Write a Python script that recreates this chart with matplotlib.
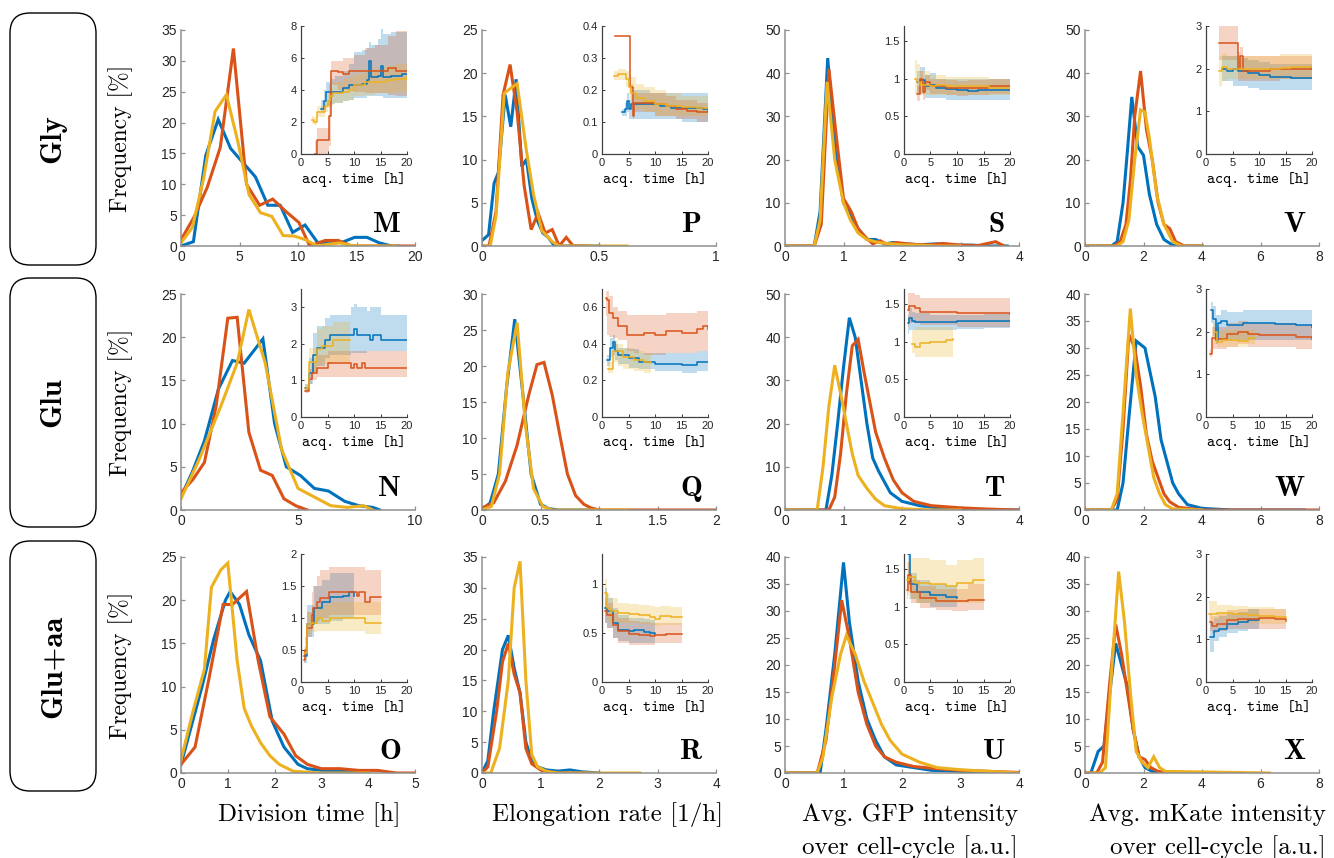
import numpy as np
import matplotlib.pyplot as plt
from matplotlib.patches import FancyBboxPatch

plt.rcParams['font.family'] = ['Liberation Sans', 'DejaVu Sans']
plt.rcParams['axes.unicode_minus'] = False

BLUE, RED, YEL = '#0072BD', '#D95319', '#EDB120'
colors = {'b': BLUE, 'o': RED, 'y': YEL}

# ---------------- histogram curves (bin centre, frequency %) ----------------
hist_M = {
    'b': ([0, 1.06, 2.12, 3.18, 4.24, 5.3, 6.36, 7.42, 8.48, 9.54, 10.6, 11.66, 12.72, 13.78, 14.84, 15.9, 16.96, 18.0, 18.5],
          [0, 0.7, 14.7, 20.5, 15.8, 13.5, 11.2, 6.6, 6.6, 2.2, 3.4, 0.6, 0.5, 0.6, 1.4, 1.4, 0.5, 0, 0]),
    'o': ([0, 1.12, 2.24, 3.36, 4.48, 5.6, 6.72, 7.84, 8.96, 10.08, 11.0, 12.32, 13.44, 14.56, 15.68, 16.8, 17.92, 19.04, 20],
          [1.0, 4.7, 9.5, 16.0, 32.0, 10.0, 6.6, 7.6, 5.6, 3.8, 0, 0.9, 0.9, 0, 0, 0, 0, 0, 0]),
    'y': ([0, 0.97, 1.94, 2.91, 3.88, 4.85, 5.82, 6.79, 7.76, 8.73, 9.7, 10.67, 11.64, 12.61, 13.58, 14.55, 15.52, 16.49, 17.46, 18.4],
          [0.5, 3.0, 11.0, 21.8, 24.5, 17.0, 8.3, 5.4, 4.8, 1.7, 1.6, 1.0, 0, 0.3, 0.5, 0.1, 0, 0, 0, 0]),
}
hist_P = {
    'b': ([0.003, 0.028, 0.052, 0.07, 0.099, 0.123, 0.146, 0.17, 0.19, 0.213, 0.236, 0.26, 0.283, 0.31, 0.4, 0.5],
          [0.7, 1.3, 7.3, 8.5, 17.5, 13.8, 19.3, 9.2, 10.0, 5.5, 3.0, 1.5, 1.0, 0, 0, 0]),
    'o': ([0.0, 0.03, 0.06, 0.09, 0.12, 0.15, 0.18, 0.21, 0.24, 0.27, 0.30, 0.33, 0.36, 0.39, 0.45],
          [0, 0, 4, 17.5, 21, 15.5, 7, 1.9, 3.8, 1.5, 1.9, 0, 1.0, 0, 0]),
    'y': ([0, 0.035, 0.06, 0.095, 0.15, 0.19, 0.22, 0.255, 0.3, 0.33, 0.62],
          [0, 0, 3.5, 17.7, 18.8, 11, 6, 1.8, 0.5, 0, 0]),
}
hist_S = {
    'b': ([0, 0.5, 0.6, 0.73, 0.86, 1.0, 1.12, 1.25, 1.4, 1.55, 1.7, 1.85, 2.0, 2.3, 2.6, 2.9, 3.2, 3.5, 3.8],
          [0, 0, 8, 43.5, 22, 10, 7, 4, 1.5, 1.5, 0.5, 0.8, 0.5, 0.3, 0.5, 0.2, 0.2, 0, 0]),
    'o': ([0, 0.5, 0.62, 0.75, 0.88, 1.0, 1.13, 1.25, 1.38, 1.5, 1.63, 1.75, 1.9, 2.1, 2.3, 2.5, 2.7, 3.0, 3.3, 3.6, 3.75],
          [0, 0, 5, 41, 25, 11, 8, 4, 2, 0.5, 1.2, 0.3, 0.8, 0.5, 0.3, 0.3, 0.6, 0.2, 0.1, 1.0, 0]),
    'y': ([0, 0.5, 0.6, 0.72, 0.85, 1.0, 1.12, 1.25, 1.4, 1.6, 1.8, 2.0, 2.3, 2.6, 3.0],
          [0, 0, 6, 38, 20, 10, 6, 3, 1.5, 0.8, 0.5, 0.3, 0.2, 0, 0]),
}
hist_V = {
    'b': ([0, 0.9, 1.1, 1.3, 1.45, 1.6, 1.8, 2.0, 2.2, 2.45, 2.7, 3.0, 3.3, 4.0],
          [0, 0, 1, 10, 22, 34.5, 23, 21, 12, 5, 1.5, 0.2, 0, 0]),
    'o': ([0, 1.0, 1.2, 1.4, 1.55, 1.7, 1.9, 2.1, 2.3, 2.5, 2.7, 2.9, 3.1, 3.4, 4.0],
          [0, 0, 1, 5, 15, 30, 40.5, 27, 20, 10, 5, 4, 1, 0, 0]),
    'y': ([0, 1.1, 1.3, 1.5, 1.7, 1.9, 2.05, 2.2, 2.45, 2.7, 3.0, 3.3, 4.0],
          [0, 0, 1, 6, 20, 31.5, 31, 25, 12, 5, 1, 0, 0]),
}
hist_N = {
    'b': ([0, 0.5, 1.0, 1.6, 2.2, 2.7, 3.5, 4.0, 4.5, 5.1, 5.7, 6.3, 7.0, 7.6, 8.2, 8.5],
          [1.5, 4.5, 8, 14, 17.3, 17, 19.8, 10, 5, 4, 2.5, 2.2, 1, 0.5, 0.3, 0]),
    'o': ([0, 0.5, 1.0, 1.5, 2.0, 2.4, 2.9, 3.4, 3.9, 4.4, 4.9, 5.4],
          [2, 3.5, 5.5, 12, 22.2, 22.3, 9, 4.6, 4.0, 1.3, 0.5, 0]),
    'y': ([0, 0.8, 1.7, 2.4, 2.9, 3.6, 4.3, 5.0, 5.7, 6.4, 7.1, 7.8, 8.2],
          [1.3, 6, 12, 17, 23.2, 17, 7, 2.5, 1.5, 0.5, 0.3, 0.5, 0]),
}
hist_Q = {
    'b': ([0, 0.07, 0.14, 0.21, 0.28, 0.35, 0.42, 0.5, 0.57, 0.65, 0.8, 1.0],
          [0, 1, 5, 17, 26.5, 16, 5, 0.8, 0.2, 0, 0, 0]),
    'o': ([0, 0.1, 0.2, 0.3, 0.4, 0.47, 0.53, 0.6, 0.67, 0.73, 0.8, 0.87, 0.93, 1.0, 1.5, 2.0],
          [0.3, 1, 4, 9, 16, 20.2, 20.5, 16, 10, 5, 2, 0.8, 0.3, 0, 0, 0]),
    'y': ([0, 0.08, 0.15, 0.22, 0.3, 0.37, 0.44, 0.52, 0.6, 0.8, 1.25],
          [0, 0.5, 5, 19, 26, 12, 3, 0.5, 0, 0, 0]),
}
hist_T = {
    'b': ([0, 0.7, 0.8, 0.9, 1.0, 1.1, 1.2, 1.3, 1.4, 1.5, 1.6, 1.8, 2.0, 2.3, 2.6, 3.0, 3.5, 4.0],
          [0, 0, 8, 20, 33, 44.5, 40, 30, 20, 12, 9, 4, 2, 1, 0.5, 0.2, 0, 0]),
    'o': ([0, 0.75, 0.85, 0.95, 1.05, 1.15, 1.25, 1.35, 1.45, 1.55, 1.7, 1.85, 2.0, 2.2, 2.5, 3.0, 3.5, 4.0],
          [0, 0, 3, 13, 27, 38, 39.5, 32, 25, 18, 12, 7, 4, 2, 1, 0.5, 0.2, 0]),
    'y': ([0, 0.55, 0.65, 0.75, 0.85, 0.95, 1.05, 1.15, 1.25, 1.4, 1.55, 1.7, 2.0, 2.5, 3.0],
          [0, 0, 10, 24, 33.5, 27, 20, 13, 8, 5, 2.5, 1, 0.3, 0, 0]),
}
hist_W = {
    'b': ([0, 1.1, 1.3, 1.5, 1.75, 2.05, 2.4, 2.6, 2.8, 3.0, 3.2, 3.5, 4.0, 5.0, 7.5],
          [0, 0, 5, 17, 31.3, 30, 21, 13, 9, 5, 3, 1, 0.3, 0, 0]),
    'o': ([0, 0.9, 1.1, 1.3, 1.5, 1.7, 1.9, 2.1, 2.3, 2.5, 2.7, 2.9, 3.2, 4.0, 8.0],
          [0, 0, 2, 15, 32.5, 30, 23, 14, 9, 6, 3, 1.5, 0.5, 0, 0]),
    'y': ([0, 0.9, 1.1, 1.3, 1.55, 1.75, 1.95, 2.15, 2.35, 2.55, 2.75, 3.0, 4.0],
          [0, 0, 3, 18, 37.3, 25, 18, 12, 6, 3, 1, 0.2, 0]),
}
hist_O = {
    'b': ([0, 0.2, 0.45, 0.7, 0.95, 1.05, 1.25, 1.45, 1.7, 1.95, 2.2, 2.5, 2.7, 3.0, 3.5, 4.0],
          [1, 5, 10, 15.5, 20, 21, 19.5, 16, 13, 6, 3, 1, 0.5, 0.3, 0.2, 0]),
    'o': ([0, 0.3, 0.6, 0.9, 1.1, 1.4, 1.65, 1.9, 2.2, 2.45, 2.7, 3.0, 3.4, 3.8, 4.2, 4.6, 5.0],
          [1, 3, 11, 19.5, 19.5, 21, 13, 6.5, 4.5, 2, 1, 0.5, 0.5, 0.3, 0.3, 0, 0]),
    'y': ([0, 0.25, 0.5, 0.65, 0.85, 1.0, 1.2, 1.35, 1.5, 1.7, 1.9, 2.1, 2.4, 3.0, 4.0],
          [1.5, 7, 12, 21.5, 23.5, 24.3, 13, 7.5, 5.5, 3.5, 2, 1, 0.2, 0, 0]),
}
hist_R = {
    'b': ([0, 0.1, 0.2, 0.35, 0.45, 0.55, 0.65, 0.75, 0.85, 0.95, 1.1, 1.3, 1.5, 1.7, 2.0],
          [0, 2, 10, 20, 22.3, 17, 13, 5, 2, 1, 0.5, 0.3, 0.5, 0.2, 0]),
    'o': ([0, 0.1, 0.25, 0.35, 0.45, 0.55, 0.65, 0.75, 0.85, 1.0, 1.2, 1.8],
          [0, 1, 10, 18, 21, 16, 13, 4, 1.5, 0.5, 0, 0]),
    'y': ([0, 0.15, 0.3, 0.45, 0.55, 0.65, 0.75, 0.85, 0.95, 1.1, 1.3, 2.7],
          [0, 0, 4, 15, 30, 34.3, 15, 3, 1, 0.3, 0, 0]),
}
hist_U = {
    'b': ([0, 0.6, 0.7, 0.85, 1.0, 1.1, 1.25, 1.4, 1.55, 1.7, 1.9, 2.2, 2.5, 3.0, 3.5, 4.0],
          [0, 0, 8, 22, 39, 28, 17, 10, 6, 3, 1.5, 1, 0.5, 0.3, 0.1, 0]),
    'o': ([0, 0.55, 0.7, 0.85, 0.97, 1.1, 1.25, 1.4, 1.55, 1.7, 1.9, 2.2, 2.6, 3.0, 3.5, 4.0],
          [0, 0, 6, 20, 32, 25, 15, 9, 5, 3, 2, 1.2, 0.8, 0.5, 0.3, 0.1]),
    'y': ([0, 0.55, 0.65, 0.8, 0.95, 1.05, 1.2, 1.35, 1.5, 1.65, 1.8, 2.0, 2.3, 2.6, 3.0, 3.5, 4.0],
          [0, 0, 3, 14, 22, 25.5, 22, 17, 13, 9, 6, 3.5, 2, 1, 0.6, 0.3, 0]),
}
hist_X = {
    'b': ([0, 0.2, 0.45, 0.65, 0.85, 1.05, 1.25, 1.45, 1.65, 1.85, 2.05, 2.3, 2.7],
          [0, 0, 4, 5, 15, 24, 20, 16, 8, 3, 1, 0.3, 0]),
    'o': ([0, 0.4, 0.6, 0.85, 1.05, 1.25, 1.45, 1.65, 1.85, 2.05, 2.25, 2.5, 3.0],
          [0, 0, 2, 17, 27.5, 22, 15, 8, 3, 2.5, 1, 0.3, 0]),
    'y': ([0, 0.5, 0.7, 0.9, 1.15, 1.35, 1.55, 1.75, 1.95, 2.15, 2.35, 2.55, 2.75, 6.3],
          [0, 0, 1, 18, 37.3, 28, 15, 4, 2, 1, 3, 1, 0.3, 0]),
}

# ---------------- inset curves: rows of (acq. time, mean, lower, upper) ----------------
ins_M = {
    'b': [(3.8, 2.8, 2.6, 3.4), (4.3, 3.3, 2.8, 4.0), (4.8, 3.9, 3.0, 4.5), (5.5, 3.9, 3.1, 4.7), (6.5, 3.9, 3.2, 4.9),
          (8.0, 4.1, 3.3, 5.2), (9.0, 4.3, 3.4, 5.6), (10.0, 4.3, 3.5, 6.4), (11.5, 4.4, 3.5, 6.5), (12.5, 4.6, 3.6, 6.6),
          (12.9, 5.8, 3.6, 7.0), (13.3, 4.8, 3.6, 6.8), (14.5, 4.9, 3.6, 7.2), (15.0, 5.5, 3.6, 7.8), (15.4, 4.8, 3.5, 7.5),
          (17.0, 4.9, 3.5, 7.6), (19.0, 5.0, 3.5, 7.6), (20.0, 5.0, 3.5, 7.6)],
    'o': [(2.6, 0.0, 0.0, 0.8), (3.0, 0.9, 0.0, 1.6), (5.2, 2.4, 0.5, 4.4), (5.7, 5.2, 4.3, 5.8), (7.0, 5.1, 4.0, 5.8),
          (8.0, 5.0, 4.0, 6.0), (9.0, 5.2, 4.0, 6.0), (10.0, 5.2, 3.9, 6.2), (12.0, 5.2, 3.8, 6.6), (14.0, 5.2, 3.8, 6.8),
          (16.5, 5.4, 3.7, 7.4), (18.0, 5.2, 3.6, 7.7), (20.0, 5.2, 3.6, 7.7)],
    'y': [(2.0, 2.1, 1.9, 2.4), (2.5, 2.0, 1.8, 2.3), (3.0, 2.6, 2.3, 3.0), (4.5, 3.0, 2.6, 3.4), (5.0, 3.3, 2.9, 3.8),
          (5.5, 3.6, 3.0, 4.2), (6.0, 3.8, 3.2, 4.5), (8.0, 3.9, 3.3, 4.7), (9.0, 4.0, 3.4, 4.8), (10.0, 4.3, 3.6, 5.0),
          (12.0, 4.5, 3.7, 5.3), (14.0, 4.5, 3.8, 5.4), (16.0, 4.6, 3.8, 5.5), (18.0, 4.7, 3.9, 5.6), (20.0, 4.8, 4.0, 5.7)],
}
ins_P = {
    'b': [(3.8, 0.13, 0.12, 0.14), (4.3, 0.14, 0.12, 0.16), (4.7, 0.165, 0.13, 0.19), (5.0, 0.14, 0.11, 0.17),
          (5.5, 0.155, 0.11, 0.2), (7.0, 0.155, 0.11, 0.2), (9.0, 0.155, 0.11, 0.19), (11.0, 0.15, 0.11, 0.19),
          (13.0, 0.145, 0.11, 0.19), (15.0, 0.145, 0.1, 0.19), (17.0, 0.145, 0.1, 0.19), (19.0, 0.14, 0.1, 0.19),
          (20.0, 0.14, 0.1, 0.19)],
    'o': [(2.5, 0.37, 0.37, 0.37), (5.3, 0.21, 0.2, 0.22), (5.8, 0.12, 0.11, 0.14), (6.0, 0.16, 0.13, 0.19),
          (8.0, 0.16, 0.13, 0.19), (10.0, 0.155, 0.12, 0.19), (12.0, 0.15, 0.12, 0.18), (14.0, 0.14, 0.11, 0.17),
          (16.0, 0.135, 0.11, 0.17), (18.0, 0.13, 0.1, 0.16), (20.0, 0.135, 0.1, 0.16)],
    'y': [(2.2, 0.245, 0.23, 0.26), (3.0, 0.25, 0.23, 0.265), (4.5, 0.235, 0.21, 0.26), (5.0, 0.21, 0.17, 0.25),
          (5.5, 0.19, 0.15, 0.24), (6.5, 0.175, 0.14, 0.22), (8.0, 0.165, 0.13, 0.21), (10.0, 0.155, 0.12, 0.2),
          (12.0, 0.15, 0.12, 0.19), (15.0, 0.148, 0.12, 0.18), (18.0, 0.145, 0.12, 0.18), (20.0, 0.145, 0.12, 0.18)],
}
ins_S = {
    'b': [(2.5, 0.95, 0.8, 1.1), (3.0, 0.98, 0.8, 1.15), (4.0, 0.9, 0.75, 1.05), (5.0, 0.92, 0.75, 1.08), (6.0, 0.88, 0.75, 1.0),
          (8.0, 0.86, 0.72, 1.0), (10.0, 0.85, 0.72, 1.0), (12.0, 0.84, 0.72, 1.0), (14.0, 0.85, 0.72, 1.0),
          (16.0, 0.85, 0.72, 1.0), (18.0, 0.85, 0.72, 1.0), (20.0, 0.85, 0.72, 1.0)],
    'o': [(2.5, 0.8, 0.7, 0.9), (3.0, 1.0, 0.9, 1.1), (3.5, 0.82, 0.72, 0.92), (4.0, 0.95, 0.85, 1.05), (5.0, 0.9, 0.8, 1.0),
          (6.0, 0.9, 0.8, 1.0), (8.0, 0.88, 0.78, 0.98), (10.0, 0.87, 0.77, 0.97), (12.0, 0.88, 0.78, 0.98),
          (14.0, 0.88, 0.78, 0.98), (16.0, 0.9, 0.8, 1.0), (18.0, 0.9, 0.8, 1.0), (20.0, 0.9, 0.8, 1.0)],
    'y': [(2.0, 1.0, 0.8, 1.25), (2.5, 0.95, 0.8, 1.2), (3.0, 0.92, 0.78, 1.1), (4.0, 0.92, 0.78, 1.1), (5.0, 0.9, 0.78, 1.05),
          (6.0, 0.92, 0.78, 1.05), (8.0, 0.9, 0.78, 1.02), (10.0, 0.9, 0.78, 1.02), (12.0, 0.9, 0.78, 1.02),
          (14.0, 0.9, 0.78, 1.02), (16.0, 0.88, 0.78, 1.0), (18.0, 0.88, 0.78, 1.0), (20.0, 0.88, 0.78, 1.0)],
}
ins_V = {
    'b': [(3.0, 2.0, 1.7, 2.3), (4.0, 1.95, 1.7, 2.3), (5.0, 2.0, 1.6, 2.3), (6.0, 1.95, 1.6, 2.25), (7.0, 1.95, 1.6, 2.25),
          (8.0, 1.9, 1.55, 2.2), (10.0, 1.85, 1.5, 2.15), (12.0, 1.8, 1.5, 2.1), (14.0, 1.8, 1.5, 2.1),
          (16.0, 1.78, 1.5, 2.1), (18.0, 1.78, 1.5, 2.1), (20.0, 1.78, 1.5, 2.1)],
    'o': [(2.5, 2.6, 2.2, 3.0), (5.5, 2.6, 2.2, 3.0), (6.0, 2.0, 1.7, 2.4), (6.5, 2.3, 1.7, 2.5), (7.0, 1.95, 1.7, 2.3),
          (8.0, 1.95, 1.7, 2.3), (10.0, 1.95, 1.7, 2.3), (12.0, 2.0, 1.7, 2.3), (14.0, 2.0, 1.75, 2.3),
          (16.0, 2.0, 1.75, 2.3), (18.0, 2.0, 1.75, 2.3), (20.0, 2.02, 1.75, 2.3)],
    'y': [(2.5, 1.95, 1.6, 2.3), (3.0, 2.05, 1.7, 2.35), (4.0, 2.0, 1.75, 2.3), (5.0, 2.0, 1.75, 2.3), (6.0, 2.0, 1.75, 2.3),
          (8.0, 2.0, 1.75, 2.3), (10.0, 2.0, 1.75, 2.3), (12.0, 2.0, 1.75, 2.3), (14.0, 2.02, 1.75, 2.35),
          (16.0, 2.05, 1.75, 2.35), (18.0, 2.05, 1.75, 2.35), (20.0, 2.05, 1.75, 2.35)],
}
ins_N = {
    'b': [(0.7, 0.8, 0.7, 0.9), (1.5, 1.2, 0.9, 1.6), (2.2, 1.7, 1.2, 2.3), (3.0, 1.9, 1.4, 2.5), (4.5, 2.1, 1.6, 2.7),
          (5.5, 2.25, 1.7, 2.8), (9.5, 2.25, 1.75, 3.0), (10.0, 2.4, 1.75, 3.1), (10.5, 2.25, 1.75, 3.0),
          (12.5, 2.25, 1.8, 2.9), (13.0, 2.1, 1.8, 3.0), (13.5, 2.25, 1.8, 3.0), (14.5, 2.25, 1.8, 3.0),
          (15.0, 2.1, 1.8, 2.8), (20.0, 2.1, 1.8, 2.8)],
    'o': [(0.8, 0.7, 0.65, 0.8), (1.5, 1.05, 0.9, 1.3), (2.0, 1.2, 1.0, 1.5), (3.0, 1.35, 1.1, 1.7), (5.0, 1.48, 1.1, 1.8),
          (9.5, 1.35, 1.1, 1.8), (10.0, 1.45, 1.1, 1.8), (10.5, 1.35, 1.1, 1.8), (11.5, 1.48, 1.1, 1.8),
          (12.0, 1.33, 1.1, 1.8), (20.0, 1.33, 1.1, 1.8)],
    'y': [(0.7, 0.8, 0.7, 0.9), (1.5, 1.5, 1.2, 1.9), (3.0, 1.85, 1.4, 2.4), (4.0, 1.95, 1.45, 2.5), (6.0, 2.1, 1.5, 2.6),
          (9.2, 2.1, 1.5, 2.6)],
}
ins_Q = {
    'b': [(1.0, 0.31, 0.28, 0.34), (1.5, 0.38, 0.33, 0.43), (2.0, 0.41, 0.34, 0.45), (2.5, 0.36, 0.31, 0.4),
          (3.0, 0.34, 0.29, 0.38), (5.0, 0.32, 0.27, 0.37), (7.0, 0.3, 0.26, 0.35), (10.0, 0.29, 0.25, 0.35),
          (15.0, 0.285, 0.24, 0.35), (18.0, 0.3, 0.25, 0.36), (20.0, 0.3, 0.25, 0.36)],
    'o': [(0.8, 0.65, 0.55, 0.69), (1.0, 0.64, 0.45, 0.69), (1.3, 0.57, 0.44, 0.66), (2.0, 0.54, 0.43, 0.6),
          (3.0, 0.5, 0.42, 0.58), (4.7, 0.45, 0.36, 0.56), (6.0, 0.45, 0.35, 0.56), (8.0, 0.46, 0.34, 0.56),
          (10.0, 0.45, 0.34, 0.56), (12.0, 0.47, 0.35, 0.57), (15.0, 0.46, 0.35, 0.57), (18.0, 0.48, 0.36, 0.58),
          (19.0, 0.5, 0.36, 0.58), (20.0, 0.48, 0.36, 0.58)],
    'y': [(1.2, 0.26, 0.24, 0.3), (2.0, 0.36, 0.3, 0.42), (3.0, 0.36, 0.28, 0.4), (4.0, 0.33, 0.26, 0.38),
          (6.0, 0.31, 0.25, 0.36), (8.0, 0.3, 0.24, 0.35), (9.3, 0.295, 0.24, 0.35)],
}
ins_T = {
    'b': [(0.8, 1.25, 1.1, 1.35), (1.0, 1.32, 1.15, 1.45), (1.5, 1.28, 1.15, 1.4), (2.0, 1.26, 1.15, 1.38),
          (5.0, 1.26, 1.15, 1.36), (10.0, 1.27, 1.17, 1.36), (15.0, 1.28, 1.18, 1.37), (20.0, 1.28, 1.18, 1.37)],
    'o': [(0.7, 1.42, 1.2, 1.65), (1.0, 1.48, 1.25, 1.65), (2.0, 1.45, 1.25, 1.62), (3.0, 1.4, 1.22, 1.58),
          (6.0, 1.4, 1.22, 1.58), (10.0, 1.38, 1.2, 1.58), (15.0, 1.38, 1.2, 1.58), (20.0, 1.37, 1.2, 1.56)],
    'y': [(1.5, 0.97, 0.85, 1.15), (2.0, 0.93, 0.8, 1.2), (3.0, 0.98, 0.8, 1.2), (5.0, 1.0, 0.8, 1.2),
          (8.0, 1.02, 0.8, 1.2), (9.2, 1.03, 0.8, 1.2)],
}
ins_W = {
    'b': [(1.0, 2.5, 2.2, 2.7), (1.3, 2.3, 1.9, 2.6), (1.8, 1.8, 1.7, 2.4), (2.2, 2.2, 1.8, 2.4), (2.8, 2.25, 1.8, 2.5),
          (4.0, 2.15, 1.8, 2.45), (7.0, 2.2, 1.8, 2.5), (10.0, 2.2, 1.8, 2.5), (13.0, 2.18, 1.8, 2.5),
          (17.0, 2.15, 1.8, 2.5), (20.0, 2.12, 1.8, 2.5)],
    'o': [(0.7, 1.47, 1.4, 1.6), (1.2, 1.85, 1.6, 2.1), (2.0, 1.83, 1.6, 2.1), (4.0, 1.95, 1.65, 2.2),
          (6.0, 2.0, 1.7, 2.25), (8.0, 1.95, 1.65, 2.2), (10.0, 1.93, 1.65, 2.2), (14.0, 1.92, 1.65, 2.2),
          (17.0, 1.88, 1.6, 2.15), (20.0, 1.83, 1.6, 2.1)],
    'y': [(1.5, 2.0, 1.7, 2.2), (2.0, 1.75, 1.65, 2.05), (3.0, 1.8, 1.65, 2.05), (6.0, 1.78, 1.65, 2.05),
          (8.0, 1.85, 1.7, 2.05), (9.2, 1.86, 1.7, 2.05)],
}
ins_O = {
    'b': [(0.6, 0.4, 0.3, 0.5), (1.2, 0.9, 0.7, 1.2), (2.5, 1.15, 0.9, 1.5), (4.0, 1.25, 0.9, 1.6), (5.5, 1.33, 0.95, 1.7),
          (8.0, 1.35, 1.0, 1.7), (9.0, 1.4, 1.0, 1.7), (10.0, 1.35, 1.0, 1.7)],
    'o': [(0.5, 0.35, 0.3, 0.45), (0.8, 0.5, 0.4, 0.7), (1.2, 0.85, 0.7, 1.1), (2.0, 1.05, 0.85, 1.4),
          (2.3, 1.15, 0.9, 1.5), (3.0, 1.25, 0.95, 1.65), (3.5, 1.32, 1.0, 1.75), (5.3, 1.4, 1.05, 1.8),
          (10.5, 1.35, 1.05, 1.8), (11.0, 1.4, 1.05, 1.8), (12.0, 1.25, 1.05, 1.75), (13.0, 1.33, 1.05, 1.75),
          (15.0, 1.33, 1.05, 1.75)],
    'y': [(0.5, 0.45, 0.35, 0.55), (1.2, 0.9, 0.75, 1.1), (2.0, 0.92, 0.78, 1.15), (3.0, 1.0, 0.8, 1.2),
          (4.0, 0.95, 0.8, 1.2), (5.5, 1.0, 0.8, 1.25), (12.0, 0.92, 0.75, 1.25), (15.0, 0.92, 0.75, 1.25)],
}
ins_R = {
    'b': [(0.5, 0.75, 0.6, 0.95), (1.0, 0.72, 0.55, 0.85), (2.0, 0.6, 0.45, 0.75), (3.0, 0.53, 0.42, 0.68),
          (5.0, 0.52, 0.4, 0.65), (6.0, 0.53, 0.4, 0.65), (8.0, 0.51, 0.4, 0.64), (9.0, 0.5, 0.4, 0.63), (10.0, 0.49, 0.4, 0.63)],
    'o': [(0.6, 0.72, 0.6, 0.85), (1.0, 0.68, 0.55, 0.8), (2.0, 0.58, 0.45, 0.7), (3.0, 0.52, 0.4, 0.65),
          (5.0, 0.49, 0.38, 0.62), (7.0, 0.48, 0.38, 0.61), (9.0, 0.47, 0.38, 0.6), (10.0, 0.48, 0.4, 0.6),
          (12.0, 0.49, 0.4, 0.6), (15.0, 0.49, 0.4, 0.6)],
    'y': [(0.5, 0.9, 0.7, 1.05), (1.0, 0.75, 0.62, 0.9), (1.5, 0.72, 0.6, 0.85), (3.0, 0.7, 0.6, 0.8),
          (5.0, 0.69, 0.6, 0.79), (7.0, 0.68, 0.59, 0.78), (9.0, 0.66, 0.58, 0.77), (10.0, 0.64, 0.57, 0.76),
          (11.0, 0.67, 0.58, 0.77), (13.0, 0.66, 0.58, 0.76), (15.0, 0.66, 0.58, 0.76)],
}
ins_U = {
    'b': [(0.7, 1.7, 1.4, 1.7), (1.2, 1.3, 1.1, 1.45), (2.5, 1.2, 1.05, 1.35), (5.0, 1.15, 1.0, 1.3),
          (8.0, 1.13, 1.0, 1.28), (10.0, 1.12, 1.0, 1.28)],
    'o': [(0.6, 1.22, 1.1, 1.4), (0.8, 1.42, 1.2, 1.6), (1.3, 1.2, 1.05, 1.35), (3.0, 1.12, 0.98, 1.28),
          (6.0, 1.08, 0.95, 1.24), (9.0, 1.07, 0.94, 1.24), (12.0, 1.09, 0.96, 1.3), (15.0, 1.09, 0.96, 1.3)],
    'y': [(0.6, 1.35, 1.15, 1.6), (1.0, 1.4, 1.1, 1.65), (2.0, 1.32, 1.05, 1.65), (5.0, 1.3, 1.05, 1.62),
          (8.0, 1.28, 1.05, 1.55), (10.0, 1.32, 1.05, 1.62), (13.0, 1.35, 1.05, 1.65), (15.0, 1.35, 1.05, 1.62)],
}
ins_X = {
    'b': [(0.8, 1.05, 0.7, 1.4), (1.5, 1.2, 0.95, 1.5), (2.5, 1.25, 1.05, 1.55), (4.0, 1.35, 1.15, 1.6),
          (6.0, 1.4, 1.2, 1.65), (8.0, 1.45, 1.25, 1.7), (10.0, 1.48, 1.25, 1.7)],
    'o': [(0.8, 1.4, 1.2, 1.6), (1.2, 1.32, 1.15, 1.55), (2.0, 1.35, 1.2, 1.6), (4.0, 1.45, 1.25, 1.68),
          (6.0, 1.48, 1.25, 1.7), (10.0, 1.5, 1.25, 1.72), (13.0, 1.47, 1.25, 1.72), (15.0, 1.44, 1.22, 1.7)],
    'y': [(0.5, 1.6, 1.4, 1.9), (2.0, 1.62, 1.4, 1.8), (5.0, 1.6, 1.4, 1.78), (8.0, 1.57, 1.38, 1.76),
          (10.0, 1.55, 1.35, 1.75), (13.0, 1.52, 1.35, 1.72), (15.0, 1.53, 1.35, 1.72)],
}

# panel letter, hist, inset, xmax, xticks, ymax, yticks, inset ymax, inset yticks
panels = [
    [('M', hist_M, ins_M, 20, [0, 5, 10, 15, 20], 35, range(0, 36, 5), 8, [0, 2, 4, 6, 8]),
     ('P', hist_P, ins_P, 1, [0, 0.5, 1], 25, range(0, 26, 5), 0.4, [0, 0.1, 0.2, 0.3, 0.4]),
     ('S', hist_S, ins_S, 4, [0, 1, 2, 3, 4], 50, range(0, 51, 10), 1.7, [0, 0.5, 1, 1.5]),
     ('V', hist_V, ins_V, 8, [0, 2, 4, 6, 8], 50, range(0, 51, 10), 3, [0, 1, 2, 3])],
    [('N', hist_N, ins_N, 10, [0, 5, 10], 25, range(0, 26, 5), 3.5, [0, 1, 2, 3]),
     ('Q', hist_Q, ins_Q, 2, [0, 0.5, 1, 1.5, 2], 30, range(0, 31, 5), 0.7, [0, 0.2, 0.4, 0.6]),
     ('T', hist_T, ins_T, 4, [0, 1, 2, 3, 4], 50, range(0, 51, 10), 1.7, [0, 0.5, 1, 1.5]),
     ('W', hist_W, ins_W, 8, [0, 2, 4, 6, 8], 40, range(0, 41, 5), 3, [0, 1, 2, 3])],
    [('O', hist_O, ins_O, 5, [0, 1, 2, 3, 4, 5], 25, range(0, 26, 5), 2, [0, 0.5, 1, 1.5, 2]),
     ('R', hist_R, ins_R, 4, [0, 1, 2, 3, 4], 35, range(0, 36, 5), 1.3, [0, 0.5, 1]),
     ('U', hist_U, ins_U, 4, [0, 1, 2, 3, 4], 40, range(0, 41, 5), 1.7, [0, 0.5, 1, 1.5]),
     ('X', hist_X, ins_X, 8, [0, 2, 4, 6, 8], 40, range(0, 41, 5), 3, [0, 1, 2, 3])],
]
row_names = ['Gly', 'Glu', 'Glu+aa']

W, H = 1334, 858
fig = plt.figure(figsize=(W / 100, H / 100), dpi=100)


def px_axes(left, top, width, height):
    return fig.add_axes([left / W, 1 - (top + height) / H, width / W, height / H])


def style(ax, spine_col, lw, size, length):
    for s in ['top', 'right']:
        ax.spines[s].set_visible(False)
    for s in ['left', 'bottom']:
        ax.spines[s].set_color(spine_col)
        ax.spines[s].set_linewidth(lw)
    ax.tick_params(direction='in', length=length, width=lw * 0.8, color=spine_col,
                   labelcolor='#262626', labelsize=size, pad=3)


def fmt(v):
    return ('%g' % v)


main_left = [181, 482, 785, 1085]
main_top = [30, 294, 557]
ins_left = [301, 602, 904, 1206]
ins_top = [26, 289, 554]

for r, row in enumerate(panels):
    for c, (letter, hist, ins, xmax, xt, ymax, yt, iymax, iyt) in enumerate(row):
        ax = px_axes(main_left[c], main_top[r], 234, 216)
        for k in ['b', 'o', 'y']:
            x, y = hist[k]
            ax.plot(x, y, color=colors[k], lw=2.2, solid_joinstyle='miter')
        ax.set_xlim(0, xmax)
        ax.set_ylim(0, ymax)
        ax.set_xticks(xt)
        ax.set_xticklabels([fmt(v) for v in xt])
        ax.set_yticks(list(yt))
        ax.set_yticklabels([fmt(v) for v in yt])
        style(ax, '#8f8f8f', 1.1, 10, 3)
        ax.text(0.94, 0.035, letter, transform=ax.transAxes, ha='right', va='bottom',
                family='cmb10', fontsize=21)

        ia = px_axes(ins_left[c], ins_top[r], 106, 128)
        ia.patch.set_alpha(0)
        for k in ['b', 'o', 'y']:
            t = [p[0] for p in ins[k]]
            lo = [p[2] for p in ins[k]]
            hi = [p[3] for p in ins[k]]
            ia.fill_between(t, lo, hi, step='post', color=colors[k], alpha=0.25, lw=0)
        for k in ['b', 'o', 'y']:
            t = [p[0] for p in ins[k]]
            m = [p[1] for p in ins[k]]
            ia.step(t, m, where='post', color=colors[k], lw=1.1)
        ia.set_xlim(0, 20)
        ia.set_ylim(0, iymax)
        ia.set_xticks([0, 5, 10, 15, 20])
        ia.set_yticks(iyt)
        ia.set_yticklabels([fmt(v) for v in iyt])
        style(ia, '#404040', 0.9, 8, 2)
        ia.set_xlabel('acq. time [h]', family='cmtt10', fontsize=11, labelpad=3)

    fig.text(121 / W, 1 - (main_top[r] + 108) / H, 'Frequency [%]', rotation=90,
             ha='center', va='center', family='cmr10', fontsize=17)

    # row label box
    top = [13, 278, 541][r]
    bot = [265, 527, 791][r]
    box = FancyBboxPatch((10 / 100, (H - bot) / 100), 86 / 100, (bot - top) / 100,
                         boxstyle='round,pad=0,rounding_size=0.2', transform=fig.dpi_scale_trans,
                         facecolor='white', edgecolor='black', lw=1.0)
    fig.add_artist(box)
    fig.text(53 / W, 1 - (top + bot) / 2 / H, row_names[r], rotation=90, ha='center', va='center',
             family='cmb10', fontsize=22)

fig.text(309 / W, 1 - 815 / H, 'Division time [h]', ha='center', va='center', family='cmr10', fontsize=18)
fig.text(608 / W, 1 - 815 / H, 'Elongation rate [1/h]', ha='center', va='center', family='cmr10', fontsize=18)
fig.text(1018 / W, 1 - 815 / H, 'Avg. GFP intensity', ha='right', va='center', family='cmr10', fontsize=18)
fig.text(1018 / W, 1 - 848 / H, 'over cell-cycle [a.u.]', ha='right', va='center', family='cmr10', fontsize=18)
fig.text(1326 / W, 1 - 815 / H, 'Avg. mKate intensity', ha='right', va='center', family='cmr10', fontsize=18)
fig.text(1326 / W, 1 - 848 / H, 'over cell-cycle [a.u.]', ha='right', va='center', family='cmr10', fontsize=18)

fig.savefig('out.png', dpi=100)
